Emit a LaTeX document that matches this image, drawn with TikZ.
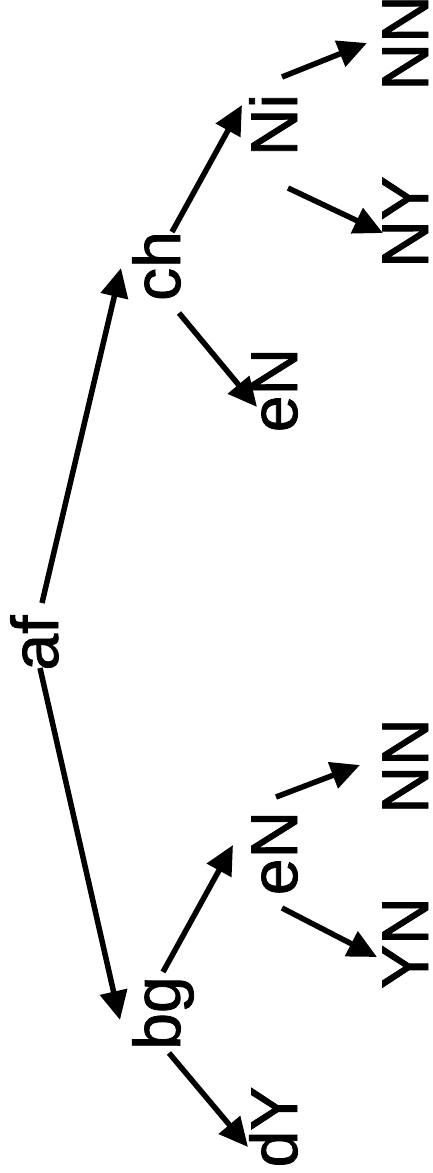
\documentclass[tikz,border=0pt]{standalone}
\usepackage{fontspec}
\setmainfont{Liberation Sans}
\newfontfamily\lblfont[RawFeature={embolden=1.2}]{Liberation Sans}
\usetikzlibrary{calc,arrows.meta}
\tikzset{
  lbl/.style={rotate=90, anchor=base, inner sep=0pt, font=\lblfont\fontsize{66}{79}\selectfont},
  arr/.style={line width=5.5pt, -{Triangle[length=29pt,width=27pt]}}
}
\begin{document}
\begin{tikzpicture}[x=1pt,y=1pt]
\useasboundingbox (0,0) rectangle (433,-1173);
% nodes (baseline x, centre y)
\node[lbl] (af)  at (58,-643)  {af};
\node[lbl] (bg)  at (180,-1013) {bg};
\node[lbl] (ch)  at (180,-266) {ch};
\node[lbl] (dY)  at (297,-1127) {dY};
\node[lbl] (eNl) at (297,-853) {eN};
\node[lbl] (eNu) at (297,-390) {eN};
\node[lbl] (Ni)  at (297,-125) {Ni};
\node[lbl] (YN)  at (428,-943) {YN};
\node[lbl] (NNb) at (428,-766) {NN};
\node[lbl] (NY)  at (428,-222) {NY};
\node[lbl] (NNt) at (428,-43)  {NN};
% edges
\draw[arr] ($(af.base)+(-18,-25)$) -- ($(bg.base)+(-60,-7)$);
\draw[arr] ($(af.base)+(-16,40)$) -- ($(ch.base)+(-59,-2)$);
\draw[arr] ($(bg.base)+(-17,41)$) -- ($(eNl.base)+(-64,8)$);
\draw[arr] ($(bg.base)+(-11,-40)$) -- ($(dY.base)+(-49,-20)$);
\draw[arr] ($(eNl.base)+(-21,56)$) -- ($(NNb.base)+(-68,1)$);
\draw[arr] ($(eNl.base)+(-15,-55)$) -- ($(YN.base)+(-51,-14)$);
\draw[arr] ($(ch.base)+(-8,34)$) -- ($(Ni.base)+(-55,20)$);
\draw[arr] ($(ch.base)+(-1,-47)$) -- ($(eNu.base)+(-40,-17)$);
\draw[arr] ($(Ni.base)+(-15,48)$) -- ($(NNt.base)+(-61,0)$);
\draw[arr] ($(Ni.base)+(-9,-63)$) -- ($(NY.base)+(-45,-11)$);
\end{tikzpicture}
\end{document}
